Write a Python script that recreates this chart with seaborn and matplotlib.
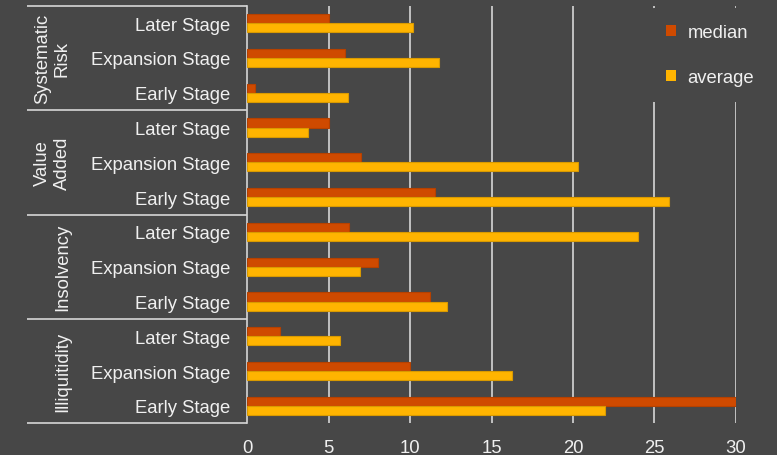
import matplotlib
matplotlib.use("Agg")
import matplotlib.pyplot as plt
from matplotlib.patches import Patch
import seaborn as sns
import pandas as pd

# Risk groups (top to bottom) and the investment stages inside each group
risk_groups = ["Systematic\nRisk", "Value\nAdded", "Insolvency", "Illiquitidity"]
stages = ["Later Stage", "Expansion Stage", "Early Stage"]

# Values per row, in the same top-to-bottom order (group by group, stage by stage)
median_vals = [5.0, 6.0, 0.5,
               5.0, 7.0, 11.5,
               6.25, 8.0, 11.25,
               2.0, 10.0, 30.0]
average_vals = [10.2, 11.8, 6.2,
                3.7, 20.3, 25.9,
                24.0, 6.9, 12.25,
                5.7, 16.25, 22.0]

x_ticks = [0, 5, 10, 15, 20, 25, 30]

BG = "#474747"
TXT = "#f0f0f0"
GRID = "#d6d6d6"
C_MED = "#cf4a00"
C_AVG = "#ffb400"
EDGE = {C_MED: "#b54100", C_AVG: "#d99a00"}
FS = 13.3

sns.set_theme(style="white")
plt.rcParams["font.family"] = ["Liberation Sans", "DejaVu Sans"]

rows = [f"{g}|{s}" for g in risk_groups for s in stages]
df = pd.DataFrame({
    "row": rows * 2,
    "measure": ["median"] * len(rows) + ["average"] * len(rows),
    "value": median_vals + average_vals,
})

fig = plt.figure(figsize=(7.77, 4.56), dpi=100, facecolor=BG)
ax = fig.add_axes([0.3183, 0.0695, 0.6286, 0.9158])
ax.set_facecolor(BG)

sns.barplot(data=df, y="row", x="value", hue="measure", order=rows,
            hue_order=["median", "average"], orient="h",
            palette={"median": C_MED, "average": C_AVG}, saturation=1,
            width=0.52, ax=ax, legend=False, zorder=3)

for p in ax.patches:
    fc = matplotlib.colors.to_hex(p.get_facecolor())
    p.set_edgecolor(EDGE.get(fc, fc))
    p.set_linewidth(0.8)

ax.set_xlim(0, 30)
ax.set_ylim(len(rows) - 0.5, -0.5)
ax.set_xticks(x_ticks)
ax.set_xticklabels([str(t) for t in x_ticks])
ax.set_yticks(range(len(rows)))
ax.set_yticklabels([r.split("|")[1] for r in rows])
ax.set_xlabel("")
ax.set_ylabel("")
ax.tick_params(axis="both", length=0, labelsize=FS, labelcolor=TXT)
ax.tick_params(axis="x", pad=11)
ax.tick_params(axis="y", pad=12)

ax.grid(False)
for t in x_ticks[1:]:
    ax.axvline(t, color=GRID, lw=1.2, zorder=1)

for side in ["top", "right", "bottom"]:
    ax.spines[side].set_visible(False)
ax.spines["left"].set_color(GRID)
ax.spines["left"].set_linewidth(1.2)

# Group separators and rotated group labels on the left
ytr = ax.get_yaxis_transform()
for b in [-0.5, 2.5, 5.5, 8.5, 11.5]:
    ax.plot([-0.451, 0], [b, b], transform=ytr, color=GRID, lw=1.2,
            clip_on=False, solid_capstyle="butt")
for i, g in enumerate(risk_groups):
    ax.text(-0.361, 3 * i + 1, g, transform=ytr, rotation=90,
            ha="right", va="center", multialignment="center",
            fontsize=FS, color=TXT, linespacing=1.2)

handles = [Patch(facecolor=C_MED, edgecolor="none", label="median"),
           Patch(facecolor=C_AVG, edgecolor="none", label="average")]
leg = ax.legend(handles=handles, loc="upper left", bbox_to_anchor=(0.8245, 0.995),
                borderaxespad=0, frameon=True, facecolor=BG, edgecolor="none",
                framealpha=1, fontsize=FS, labelcolor=TXT,
                handlelength=0.54, handleheight=0.54, handletextpad=0.6,
                labelspacing=1.5, borderpad=0.88)
leg.set_zorder(5)

fig.savefig("out.png", dpi=100, facecolor=BG)
